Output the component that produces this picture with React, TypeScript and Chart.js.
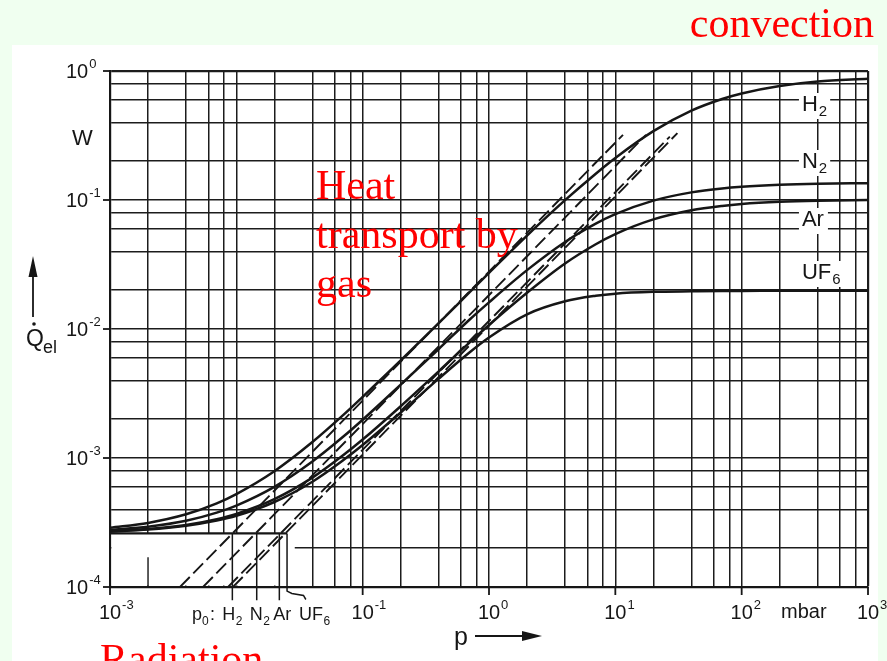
import React, { useEffect, useRef } from 'react';
import { Chart, registerables } from 'chart.js';

Chart.register(...registerables);

// ---------- data ----------
const PRESSURE_MBAR = [1e-3, 2e-3, 4e-3, 7e-3, 1e-2, 2e-2, 4e-2, 7e-2, 0.1, 0.2, 0.4, 0.7, 1, 2, 4, 7, 10, 20, 40, 70, 100, 200, 400, 1000];
const Q_H2 = [2.88e-4, 3.14e-4, 3.66e-4, 4.45e-4, 5.25e-4, 7.9e-4, 1.33e-3, 2.15e-3, 2.98e-3, 5.7e-3, 1.11e-2, 1.92e-2, 2.72e-2, 5.3e-2, 9.97e-2, 0.16, 0.212, 0.342, 0.493, 0.607, 0.67, 0.765, 0.83, 0.87];
const Q_N2 = [2.77e-4, 2.93e-4, 3.26e-4, 3.77e-4, 4.28e-4, 5.98e-4, 9.4e-4, 1.46e-3, 1.98e-3, 3.7e-3, 7.0e-3, 1.18e-2, 1.61e-2, 2.86e-2, 4.73e-2, 6.56e-2, 7.77e-2, 9.89e-2, 0.1146, 0.123, 0.1266, 0.131, 0.1335, 0.135];
const Q_AR = [2.71e-4, 2.82e-4, 3.03e-4, 3.36e-4, 3.69e-4, 4.8e-4, 7.05e-4, 1.05e-3, 1.39e-3, 2.52e-3, 4.7e-3, 7.85e-3, 1.075e-2, 1.91e-2, 3.22e-2, 4.54e-2, 5.44e-2, 7.07e-2, 8.32e-2, 9.0e-2, 9.31e-2, 9.68e-2, 9.88e-2, 0.1];
const Q_UF6 = [2.69e-4, 2.79e-4, 2.99e-4, 3.28e-4, 3.57e-4, 4.56e-4, 6.55e-4, 9.6e-4, 1.26e-3, 2.25e-3, 4.12e-3, 6.58e-3, 8.6e-3, 1.3e-2, 1.64e-2, 1.81e-2, 1.88e-2, 1.94e-2, 1.96e-2, 1.97e-2, 1.97e-2, 1.98e-2, 1.98e-2, 1.98e-2];

const GAS_MAIN = ['H', 'N', 'Ar', 'UF'];
const GAS_SUB = ['2', '2', '', '6'];

// radiation level and p0 (intersection of asymptotes with radiation level)
const Q_RAD = 2.6e-4;
const P0 = [9.3e-3, 1.45e-2, 2.19e-2, 2.52e-2];

// dashed asymptotes (start / end points)
const DASH_START_P = [3.58e-3, 5.45e-3, 8.6e-3, 9.4e-3];
const DASH_START_Q = [1e-4, 1e-4, 1e-4, 1e-4];
const DASH_END_P = [11.5, 17.5, 27, 31];
const DASH_END_Q = [0.32, 0.32, 0.31, 0.33];

// axes
const X_MIN = 1e-3;
const X_MAX = 1e3;
const Y_MIN = 1e-4;
const Y_MAX = 1;
const X_LABEL_EXP = [-3, -1, 0, 1, 2, 3];
const Y_LABEL_EXP = [0, -1, -2, -3, -4];
const GRID_MULT = [1, 2, 4, 6, 8];

// ---------- styling ----------
const INK = '#161616';
const SANS = '"Liberation Sans", Arial, sans-serif';
const SERIF = '"Liberation Serif", "Times New Roman", serif';

function gridValues(minExp: number, maxExp: number) {
  const out: number[] = [];
  for (let e = minExp; e < maxExp; e++) for (const m of GRID_MULT) out.push(m * Math.pow(10, e));
  out.push(Math.pow(10, maxExp));
  return out;
}

const decorPlugin = {
  id: 'decor',
  beforeDraw(chart: any) {
    const { ctx } = chart;
    ctx.save();
    ctx.fillStyle = '#f0fff0';
    ctx.fillRect(0, 0, chart.width, chart.height);
    ctx.fillStyle = '#ffffff';
    ctx.fillRect(12, 45, 866, chart.height - 45);
    ctx.restore();
  },
  beforeDatasetsDraw(chart: any) {
    const { ctx } = chart;
    const x = chart.scales.x;
    const y = chart.scales.y;
    ctx.save();
    // blank region under the radiation level (left lower corner)
    const l = x.getPixelForValue(X_MIN) + 1.5;
    const r = x.getPixelForValue(2.9e-2);
    const t = y.getPixelForValue(Q_RAD);
    const b = y.getPixelForValue(Y_MIN) - 1.5;
    ctx.fillStyle = '#ffffff';
    ctx.fillRect(l, t, r - l, b - t);
    // small stub at 2e-3
    ctx.strokeStyle = INK;
    ctx.lineWidth = 1.4;
    const sx = x.getPixelForValue(2e-3);
    ctx.beginPath();
    ctx.moveTo(sx, y.getPixelForValue(Y_MIN));
    ctx.lineTo(sx, y.getPixelForValue(1.7e-4));
    ctx.stroke();
    ctx.restore();
  },
  afterDraw(chart: any) {
    const { ctx } = chart;
    const x = chart.scales.x;
    const y = chart.scales.y;
    const x0 = x.getPixelForValue(X_MIN);
    const yb = y.getPixelForValue(Y_MIN);
    ctx.save();
    ctx.strokeStyle = INK;
    ctx.fillStyle = INK;
    ctx.lineWidth = 1.8;
    ctx.textBaseline = 'alphabetic';

    // decade tick marks
    X_LABEL_EXP.forEach((e) => {
      const px = x.getPixelForValue(Math.pow(10, e));
      ctx.beginPath();
      ctx.moveTo(px, yb);
      ctx.lineTo(px, yb + 8);
      ctx.stroke();
    });
    Y_LABEL_EXP.forEach((e) => {
      const py = y.getPixelForValue(Math.pow(10, e));
      ctx.beginPath();
      ctx.moveTo(x0 - 7, py);
      ctx.lineTo(x0, py);
      ctx.stroke();
    });

    // tick labels
    X_LABEL_EXP.forEach((e) => {
      const px = x.getPixelForValue(Math.pow(10, e));
      ctx.font = `20px ${SANS}`;
      const w = ctx.measureText('10').width;
      ctx.fillText('10', px - w / 2, 619);
      ctx.font = `13px ${SANS}`;
      ctx.fillText(String(e), px + w / 2 + 1, 609);
    });
    Y_LABEL_EXP.forEach((e) => {
      const py = y.getPixelForValue(Math.pow(10, e));
      ctx.font = `20px ${SANS}`;
      const w = ctx.measureText('10').width;
      ctx.fillText('10', 66, py + 7);
      ctx.font = `13px ${SANS}`;
      ctx.fillText(String(e), 66 + w + 1, py - 3);
    });

    // mbar
    ctx.font = `20px ${SANS}`;
    ctx.fillText('mbar', 781, 618);
    // W
    ctx.font = `22px ${SANS}`;
    ctx.fillText('W', 72, 145);

    // p ->
    ctx.font = `25px ${SANS}`;
    ctx.fillText('p', 454, 645);
    ctx.lineWidth = 1.8;
    ctx.beginPath();
    ctx.moveTo(475, 636);
    ctx.lineTo(526, 636);
    ctx.stroke();
    ctx.beginPath();
    ctx.moveTo(542, 636);
    ctx.lineTo(522, 631);
    ctx.lineTo(522, 641);
    ctx.closePath();
    ctx.fill();

    // Q_el with up arrow
    ctx.beginPath();
    ctx.moveTo(33, 317);
    ctx.lineTo(33, 272);
    ctx.stroke();
    ctx.beginPath();
    ctx.moveTo(33, 256);
    ctx.lineTo(28.5, 277);
    ctx.lineTo(37.5, 277);
    ctx.closePath();
    ctx.fill();
    ctx.font = `23px ${SANS}`;
    ctx.fillText('Q', 26, 346);
    ctx.beginPath();
    ctx.arc(34, 324, 1.8, 0, Math.PI * 2);
    ctx.fill();
    ctx.font = `18px ${SANS}`;
    ctx.fillText('el', 43, 353);

    // curve labels at the right (white background)
    const labelBase = [111, 168, 226, 279];
    const lx = x.getPixelForValue(300);
    GAS_MAIN.forEach((m, i) => {
      ctx.font = `22px ${SANS}`;
      const w = ctx.measureText(m).width;
      ctx.font = `15px ${SANS}`;
      const ws = GAS_SUB[i] ? ctx.measureText(GAS_SUB[i]).width : 0;
      ctx.fillStyle = '#ffffff';
      ctx.fillRect(lx - 3, labelBase[i] - 18, w + ws + 7, 26);
      ctx.fillStyle = INK;
      ctx.font = `22px ${SANS}`;
      ctx.fillText(m, lx, labelBase[i]);
      if (GAS_SUB[i]) {
        ctx.font = `15px ${SANS}`;
        ctx.fillText(GAS_SUB[i], lx + w + 1, labelBase[i] + 5);
      }
    });

    // p0 labels
    const pb = 620;
    ctx.font = `18px ${SANS}`;
    ctx.fillText('p', 192, pb);
    ctx.font = `12px ${SANS}`;
    ctx.fillText('0', 202, pb + 5);
    ctx.font = `18px ${SANS}`;
    ctx.fillText(':', 210, pb);
    const offs = [-10, -7, -6, 12];
    GAS_MAIN.forEach((m, i) => {
      const px = x.getPixelForValue(P0[i]) + offs[i];
      ctx.font = `18px ${SANS}`;
      ctx.fillText(m, px, pb);
      const w = ctx.measureText(m).width;
      if (GAS_SUB[i]) {
        ctx.font = `12px ${SANS}`;
        ctx.fillText(GAS_SUB[i], px + w + 0.5, pb + 5);
      }
    });

    // red annotations
    ctx.fillStyle = '#ff0000';
    ctx.font = `42px ${SERIF}`;
    ctx.textAlign = 'right';
    ctx.fillText('convection', 874, 37);
    ctx.textAlign = 'left';
    ctx.fillText('Heat', 316, 199);
    ctx.fillText('transport by', 316, 248);
    ctx.fillText('gas', 316, 297);
    ctx.fillText('Radiation', 100, 673);
    ctx.restore();
  },
};

function solid(label: string, values: number[]) {
  return {
    label,
    data: PRESSURE_MBAR.map((p, i) => ({ x: p, y: values[i] })),
    borderColor: INK,
    borderWidth: 2.5,
    pointRadius: 0,
    cubicInterpolationMode: 'monotone' as const,
    fill: false,
  };
}

export default function App() {
  const ref = useRef<HTMLCanvasElement | null>(null);

  useEffect(() => {
    if (!ref.current) return;
    const datasets: any[] = [
      solid('H2', Q_H2),
      solid('N2', Q_N2),
      solid('Ar', Q_AR),
      solid('UF6', Q_UF6),
    ];
    GAS_MAIN.forEach((g, i) => {
      datasets.push({
        label: g + ' asymptote',
        data: [
          { x: DASH_START_P[i], y: DASH_START_Q[i] },
          { x: DASH_END_P[i], y: DASH_END_Q[i] },
        ],
        borderColor: INK,
        borderWidth: 1.9,
        borderDash: [14, 5],
        pointRadius: 0,
        fill: false,
      });
    });
    // radiation level
    datasets.push({
      label: 'radiation',
      data: [
        { x: X_MIN, y: Q_RAD },
        { x: P0[3], y: Q_RAD },
      ],
      borderColor: INK,
      borderWidth: 2.3,
      pointRadius: 0,
      fill: false,
    });
    // p0 markers
    P0.forEach((p, i) => {
      const data =
        i < 3
          ? [
              { x: p, y: Q_RAD },
              { x: p, y: 7.9e-5 },
            ]
          : [
              { x: p, y: Q_RAD },
              { x: p, y: 9.3e-5 },
              { x: 2.75e-2, y: 8.9e-5 },
              { x: 3.4e-2, y: 8.6e-5 },
              { x: 3.55e-2, y: 8.0e-5 },
            ];
      datasets.push({
        label: 'p0 ' + GAS_MAIN[i],
        data,
        borderColor: INK,
        borderWidth: 1.5,
        pointRadius: 0,
        fill: false,
        clip: false,
        tension: 0,
      });
    });

    const gridOpts = (edgeVal: number) => ({
      color: '#1c1c1c',
      lineWidth: (c: any) => (c.tick && Math.abs(c.tick.value - edgeVal) / edgeVal < 1e-6 ? 2.2 : 1.5),
      drawTicks: false,
    });

    const chart = new Chart(ref.current, {
      type: 'line',
      data: { datasets },
      plugins: [decorPlugin],
      options: {
        animation: false,
        responsive: false,
        devicePixelRatio: 1,
        events: [],
        layout: { padding: { left: 110, top: 71, right: 19, bottom: 74 } },
        plugins: { legend: { display: false }, tooltip: { enabled: false } },
        scales: {
          x: {
            type: 'logarithmic',
            min: X_MIN,
            max: X_MAX,
            afterBuildTicks: (s: any) => {
              s.ticks = gridValues(-3, 3).map((v) => ({ value: v }));
            },
            ticks: { display: false },
            grid: gridOpts(X_MAX),
            border: { display: true, color: INK, width: 2.2 },
          },
          y: {
            type: 'logarithmic',
            min: Y_MIN,
            max: Y_MAX,
            afterBuildTicks: (s: any) => {
              s.ticks = gridValues(-4, 0).map((v) => ({ value: v }));
            },
            ticks: { display: false },
            grid: gridOpts(Y_MAX),
            border: { display: true, color: INK, width: 2.2 },
          },
        },
      } as any,
    });
    return () => chart.destroy();
  }, []);

  return (
    <div style={{ position: 'fixed', left: 0, top: 0, width: 887, height: 661, background: '#f0fff0' }}>
      <canvas ref={ref} width={887} height={661} style={{ width: 887, height: 661, display: 'block' }} />
    </div>
  );
}
